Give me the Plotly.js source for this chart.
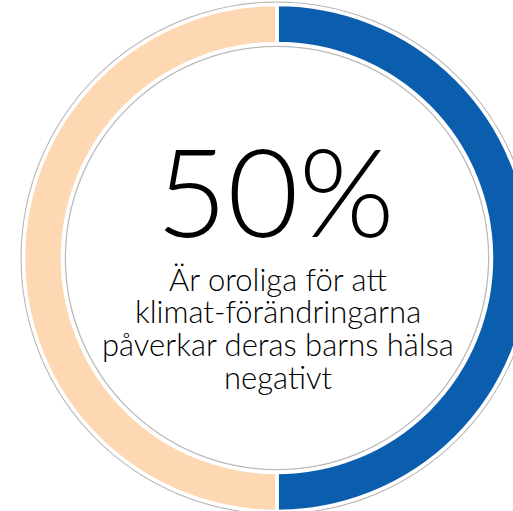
<!DOCTYPE html>
<html>
<head>
<meta charset="utf-8">
<script src="https://cdn.plot.ly/plotly-3.0.1.min.js"></script>
<style>
  html, body { margin: 0; padding: 0; width: 513px; height: 511px; overflow: hidden; background: #ffffff; }
  #chart { position: absolute; }
</style>
</head>
<body>
<div id="chart"></div>
<script>
// ---- data ----
var categories = ['Oroliga', 'Övriga'];
var values = [50, 50];
var sliceColors = ['#0B5DAE', '#FDD8B3'];
var headline = values[0] + '%';
var captionLines = [
  'Är oroliga för att',
  'klimat-förändringarna',
  'påverkar deras barns hälsa',
  'negativt'
];

// ---- layout geometry (page pixels) ----
var S = 540;            // size of the plot area
var cx = 277, cy = 258; // centre of the ring on the page
var offX = cx - S / 2, offY = cy - S / 2;
var el = document.getElementById('chart');
el.style.left = offX + 'px';
el.style.top = offY + 'px';
el.style.width = S + 'px';
el.style.height = S + 'px';

function dom(r) {
  return { x: [0.5 - r / S, 0.5 + r / S], y: [0.5 - r / S, 0.5 + r / S] };
}
function px(x) { return (x - offX) / S; }
function py(y) { return 1 - (y - offY) / S; }

function ring(rOut, rIn, color) {
  return {
    type: 'pie', values: [1], labels: [' '], sort: false,
    domain: dom(rOut), hole: rIn / rOut,
    marker: { colors: [color], line: { width: 0 } },
    textinfo: 'none', hoverinfo: 'skip', showlegend: false
  };
}

var traces = [
  ring(256.5, 211, '#b9b9b9'),
  ring(255.2, 212.3, '#ffffff'),
  {
    type: 'pie', values: values, labels: categories, sort: false,
    direction: 'clockwise', rotation: 0,
    domain: dom(253.5), hole: 214.5 / 253.5,
    marker: { colors: sliceColors, line: { color: '#ffffff', width: 3.5 } },
    textinfo: 'none', hoverinfo: 'label+percent', showlegend: false
  }
];

var annotations = [{
  text: headline, xref: 'paper', yref: 'paper',
  x: px(275), y: py(190), xanchor: 'center', yanchor: 'middle',
  showarrow: false,
  font: { family: 'Lato, "Liberation Sans", sans-serif', size: 123, weight: 300, color: '#000000' }
}];
var lineY = [279, 311, 344, 377];
captionLines.forEach(function (t, i) {
  annotations.push({
    text: t, xref: 'paper', yref: 'paper',
    x: px(278), y: py(lineY[i]), xanchor: 'center', yanchor: 'middle',
    showarrow: false,
    font: { family: 'Lato, "Liberation Sans", sans-serif', size: 31, weight: 300, color: '#000000' }
  });
});

var layout = {
  width: S, height: S,
  margin: { l: 0, r: 0, t: 0, b: 0, pad: 0 },
  paper_bgcolor: 'rgba(0,0,0,0)', plot_bgcolor: 'rgba(0,0,0,0)',
  showlegend: false,
  annotations: annotations
};

Plotly.newPlot('chart', traces, layout, { displayModeBar: false, staticPlot: true });
</script>
</body>
</html>
